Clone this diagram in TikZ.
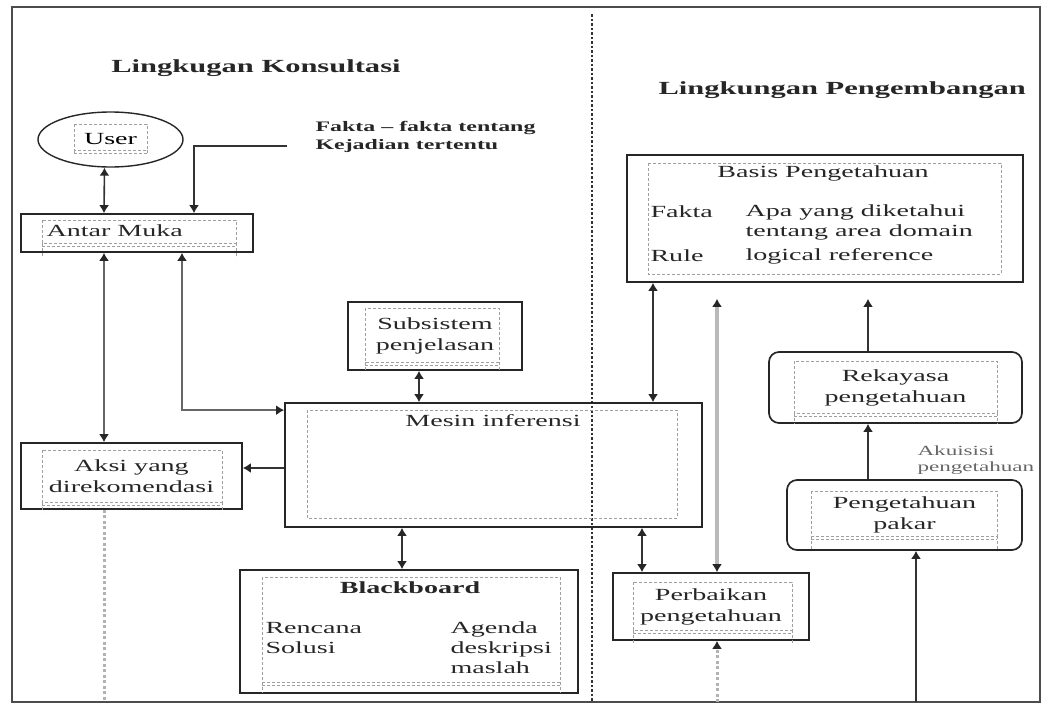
\documentclass[tikz,border=0pt]{standalone}
\usepackage{fontspec}
\setmainfont[FakeStretch=1.65]{Liberation Serif}
\usetikzlibrary{arrows.meta,shapes.geometric}

\newcommand{\isi}{\fontsize{17}{21}\selectfont}
\newcommand{\rapat}{\fontsize{17}{20}\selectfont}
\newcommand{\tbox}[5]{%
  \draw[dalam] (#1,#2) rectangle (#3,#4);
  \draw[dalam] (#1,#4+3) -- (#3,#4+3);
  \draw[dalam] (#1,#4) -- (#1,#5) (#3,#4) -- (#3,#5);}

\tikzset{
  kotak/.style={draw=black!85, line width=1.7pt, rectangle, inner sep=0pt,
    align=center, font=\isi, text=black!85},
  bulat/.style={kotak, rounded corners=10pt},
  dalam/.style={draw=gray!75, line width=0.8pt, densely dashed},
  judul/.style={font=\fontsize{18.5}{22}\selectfont\bfseries, text=black!85},
  catatan/.style={font=\fontsize{14.5}{18}\selectfont\bfseries, text=black!85},
  kecil/.style={font=\fontsize{14}{16}\selectfont, text=black!60},
  teks/.style={font=\isi, text=black!85},
  >={Latex[length=8pt,width=10pt,color=black!85]},
  panah/.style={->, draw=black!80, line width=1.6pt},
  dua/.style={<->, draw=black!80, line width=1.6pt},
  tebal/.style={<->, draw=black!60, line width=2.4pt},
  abu/.style={<->, draw=gray!55, line width=3.2pt},
  titik/.style={draw=gray!60, line width=3pt, dash pattern=on 3pt off 2.5pt},
}

\begin{document}
\begin{tikzpicture}[x=1pt,y=-1pt]
    \useasboundingbox (0,0) rectangle (1042,704);
    \draw[black!70, line width=2pt] (12,7) rectangle (1040,702);
    \draw[black!80, line width=2.2pt, dash pattern=on 2.5pt off 2pt] (592,14) -- (592,702);

    % judul
    \node[judul] (judulkiri) at (256,68) {Lingkugan Konsultasi};
    \node[judul, anchor=west] (judulkanan) at (655,90) {Lingkungan Pengembangan};

    % lingkungan konsultasi
    \node[draw=black!85, line width=1.4pt, ellipse, minimum width=145pt,
      minimum height=55pt, inner sep=0pt, font=\isi] (user) at (110.5,139.5) {User};
    \tbox{74}{124}{147}{150}{154}
    \node[catatan, anchor=west, align=left] (fakta) at (312,137) {Fakta -- fakta tentang\\Kejadian tertentu};
    \coordinate (fakta-ujung) at (287,146);

    \node[kotak, minimum width=232pt, minimum height=38pt] (antar) at (137,233) {};
    \tbox{42}{220}{236}{243}{258}
    \node[teks, anchor=west] (antartxt) at (43,231) {Antar Muka};

    \node[kotak, minimum width=221pt, minimum height=66pt] (aksi) at (131.5,476) {Aksi yang\\direkomendasi};
    \tbox{42}{450}{222}{502}{512}
    \coordinate (aksi-bawah) at (104,702);

    \node[kotak, minimum width=174pt, minimum height=68pt] (subsistem) at (435,336) {Subsistem\\penjelasan};
    \tbox{365}{308}{499}{362}{370}

    \node[kotak, minimum width=417pt, minimum height=124pt] (mesin) at (493.5,465) {};
    \draw[dalam] (307,410) rectangle (677,518);
    \node[teks] (mesintxt) at (493,421) {Mesin inferensi};

    \node[kotak, minimum width=338pt, minimum height=123pt] (papan) at (409,631.5) {};
    \tbox{262}{577}{560}{682}{693}
    \node[teks, font=\isi\bfseries] (papantxt) at (410,588) {Blackboard};
    \node[teks, font=\rapat, anchor=west, align=left] (rencana) at (262,638) {Rencana\\Solusi};
    \node[teks, font=\rapat, anchor=west, align=left] (agenda) at (447,648) {Agenda\\deskripsi\\maslah};

    % lingkungan pengembangan
    \node[kotak, minimum width=396pt, minimum height=127pt] (basis) at (825,218.5) {};
    \draw[dalam] (648,163) rectangle (1001,274);
    \node[teks] (basistxt) at (823,173) {Basis Pengetahuan};
    \node[teks, anchor=west] (lblfakta) at (647,212) {Fakta};
    \node[teks, font=\rapat, anchor=west, align=left] (isifakta) at (742,222) {Apa yang diketahui\\tentang area domain};
    \node[teks, anchor=west] (lblrule) at (647,256) {Rule};
    \node[teks, anchor=west] (isirule) at (742,256) {logical reference};

    \node[kotak, minimum width=196pt, minimum height=67pt] (perbaikan) at (711,606.5) {Perbaikan\\pengetahuan};
    \tbox{633}{582}{792}{630}{644}
    \coordinate (perbaikan-bawah) at (717,702);

    \node[bulat, minimum width=253pt, minimum height=71pt] (rekayasa) at (895.5,387.5) {Rekayasa\\pengetahuan};
    \tbox{794}{361}{997}{413}{424}
    \node[bulat, minimum width=235pt, minimum height=70pt] (pakar) at (904.5,515) {Pengetahuan\\pakar};
    \tbox{811}{491}{997}{536}{551}
    \node[kecil, anchor=west, align=left] (akuisisi) at (914,460) {Akuisisi\\pengetahuan};
    \coordinate (pakar-bawah) at (916,702);

    % panah
    \draw[dua] ([xshift=-6pt]user.south) -- ([xshift=-33pt]antar.north);
    \draw[panah] (fakta-ujung) -| ([xshift=57pt]antar.north);
    \draw[tebal] ([xshift=-33pt]antar.south) -- ([xshift=-27.5pt]aksi.north);
    \draw[tebal] ([xshift=45pt]antar.south) |- ([yshift=-8pt]mesin.north west);
    \draw[panah] ([yshift=-3pt]mesin.west) -- ([yshift=8pt]aksi.east);
    \draw[titik] (aksi-bawah |- aksi.south) -- (aksi-bawah);
    \draw[dua] ([xshift=-16pt]subsistem.south) -- ([xshift=-74.5pt]mesin.north);
    \draw[dua] ([xshift=-91.5pt]mesin.south) -- ([xshift=-7pt]papan.north);
    \draw[dua] ([xshift=-172pt]basis.south) -- ([xshift=159.5pt]mesin.north);
    \draw[dua] ([xshift=148.5pt]mesin.south) -- ([xshift=-69pt]perbaikan.north);
    \draw[abu] ([xshift=-108pt,yshift=-16pt]basis.south) -- ([xshift=6pt]perbaikan.north);
    \draw[titik, ->] (perbaikan-bawah) -- (perbaikan-bawah |- perbaikan.south);
    \draw[panah] ([xshift=-27.5pt]rekayasa.north) -- ([xshift=43pt,yshift=-16pt]basis.south);
    \draw[panah] ([xshift=-36.5pt]pakar.north) -- ([xshift=-27.5pt]rekayasa.south);
    \draw[panah] (pakar-bawah) -- (pakar-bawah |- pakar.south);
\end{tikzpicture}
\end{document}
